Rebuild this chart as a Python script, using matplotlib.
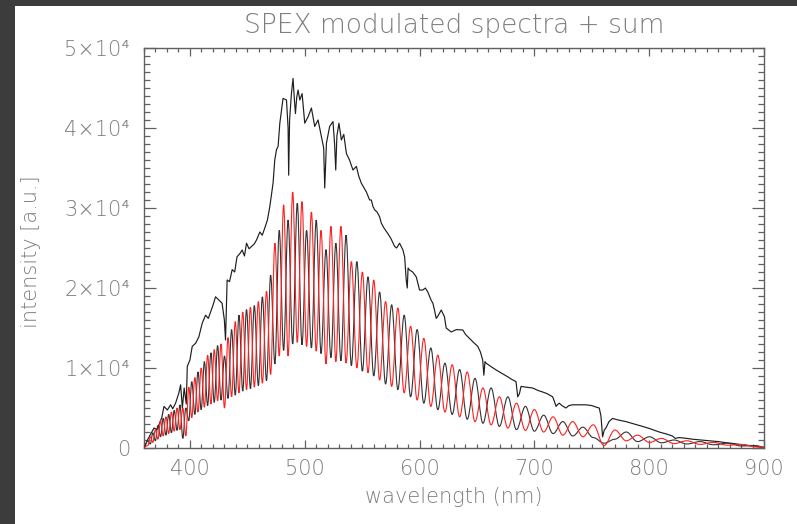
import matplotlib
matplotlib.use("Agg")
import matplotlib.pyplot as plt
import numpy as np
from matplotlib.path import Path
from matplotlib.patches import PathPatch, Rectangle
from matplotlib.ticker import MultipleLocator, FixedLocator, FixedFormatter

# ---------------- data (intensities in units of 1000) ----------------
sum_wl = [360.0, 363.0, 366.0, 368.7, 371.0, 373.0, 375.5, 377.4, 380.3, 383.2, 385.0, 387.5,
          390.4, 391.9, 393.4, 395.0, 396.8, 397.7, 400.0, 402.0, 405.0, 407.8, 410.7, 413.6,
          416.0, 418.0, 420.0, 422.3, 425.2, 428.0, 430.0, 431.0, 432.4, 434.5, 436.8, 439.0,
          441.0, 443.5, 445.5, 447.5, 449.3, 451.5, 453.7, 456.0, 458.0, 460.9, 463.0, 465.2,
          467.5, 469.6, 472.4, 473.9, 475.4, 476.8, 478.3, 481.1, 484.1, 485.5, 486.0, 486.8,
          488.4, 489.8, 491.0, 491.9, 493.0, 494.2, 495.7, 497.7, 500.0, 502.9, 505.8, 508.7,
          511.6, 514.5, 516.5, 517.4, 518.9, 521.7, 524.6, 526.0, 527.0, 528.0, 529.8, 531.9,
          534.0, 536.3, 539.0, 542.0, 545.0, 547.0, 549.3, 553.7, 556.5, 558.0, 559.4, 561.0,
          563.0, 565.2, 566.7, 569.0, 572.4, 575.0, 578.3, 580.0, 582.6, 585.5, 587.0, 588.4,
          589.3, 590.0, 591.3, 594.0, 597.1, 600.0, 602.9, 605.0, 607.2, 610.0, 611.6, 613.0,
          614.5, 616.0, 618.9, 621.7, 623.2, 625.0, 627.6, 632.0, 637.7, 640.0, 643.5, 647.0,
          650.7, 653.0, 655.0, 656.0, 657.0, 658.0, 662.0, 666.7, 672.0, 676.8, 680.0, 684.0,
          685.5, 687.0, 688.4, 693.0, 698.5, 703.0, 707.2, 711.0, 715.9, 717.5, 718.9, 720.0,
          721.7, 724.0, 727.5, 730.0, 733.3, 740.0, 745.0, 750.0, 754.0, 756.5, 758.0, 759.4,
          760.9, 762.3, 765.0, 768.1, 773.0, 779.7, 787.0, 794.2, 801.0, 808.7, 815.0, 820.3,
          822.6, 826.0, 830.0, 837.7, 845.0, 852.2, 860.0, 866.7, 874.0, 881.1, 890.0, 900.0]
sum_k = [0.0, 1.0, 1.8, 2.5, 2.3, 2.9, 3.8, 5.2, 4.75, 5.4, 4.9, 5.6,
         6.9, 7.9, 5.0, 7.5, 5.5, 10.2, 11.0, 12.7, 13.1, 13.9, 15.6, 16.6,
         16.2, 17.0, 17.8, 18.9, 18.5, 18.1, 16.0, 13.5, 21.0, 20.8, 22.3, 22.0,
         23.9, 24.3, 24.75, 24.0, 25.6, 24.9, 25.2, 25.5, 26.0, 27.0, 26.6, 27.5,
         28.5, 30.2, 33.1, 36.0, 37.3, 37.7, 40.6, 43.7, 43.5, 40.0, 34.1, 41.0,
         44.3, 46.2, 43.5, 41.8, 43.8, 44.75, 43.5, 44.3, 40.6, 41.4, 42.5, 40.2,
         41.0, 38.9, 37.5, 32.5, 38.1, 40.2, 40.8, 38.0, 34.75, 39.0, 40.6, 38.5,
         39.2, 36.8, 36.0, 34.75, 35.2, 34.0, 33.1, 32.0, 31.0, 31.0, 30.2, 29.75,
         29.5, 28.9, 28.1, 27.5, 26.8, 26.2, 25.2, 25.0, 25.6, 24.75, 23.9, 21.0,
         20.0, 22.5, 22.25, 22.0, 21.4, 19.75, 19.75, 20.0, 19.5, 18.5, 18.1, 17.25,
         16.2, 16.5, 17.25, 16.4, 15.0, 14.8, 14.5, 14.8, 14.75, 14.2, 13.7, 13.2,
         12.7, 12.0, 11.0, 9.1, 10.8, 10.6, 10.2, 9.75, 9.3, 8.9, 8.6, 8.3,
         6.4, 6.8, 7.7, 7.6, 7.5, 7.2, 7.0, 6.8, 6.4, 5.8, 5.2, 5.4,
         5.6, 5.3, 5.0, 5.3, 5.4, 5.4, 5.4, 5.3, 5.1, 5.0, 4.0, 1.4,
         2.25, 2.5, 3.3, 3.7, 3.5, 3.3, 3.0, 2.7, 2.4, 2.0, 1.75, 1.5,
         1.2, 1.3, 1.25, 1.1, 1.0, 0.9, 0.8, 0.67, 0.55, 0.4, 0.25, 0.05]

# extrema of the two modulated spectra (red peak <-> black trough and vice versa)
ext_wl = [360.0, 363.3, 365.5, 367.7, 369.9, 372.1, 374.4, 376.7, 379.1, 381.5, 383.9, 386.3,
          388.8, 391.3, 393.8, 396.4, 399.0, 401.6, 404.3, 407.0, 409.8, 412.6, 415.4, 418.3,
          421.2, 424.1, 427.1, 430.1, 433.2, 436.3, 439.5, 442.7, 446.0, 449.3, 452.7, 456.1,
          459.6, 463.1, 466.7, 470.3, 474.0, 477.8, 481.6, 485.5, 489.5, 493.5, 497.6, 501.6,
          505.8, 510.0, 514.2, 518.5, 522.8, 527.1, 531.5, 536.0, 540.6, 545.4, 550.2, 555.1,
          560.1, 565.2, 570.4, 575.7, 581.1, 586.6, 592.2, 597.9, 603.7, 609.8, 615.9, 622.1,
          628.4, 634.9, 641.5, 648.3, 655.2, 662.3, 669.5, 676.9, 684.4, 692.2, 700.0, 708.1,
          716.3, 724.8, 733.4, 742.3, 751.3, 760.7, 770.1, 780.0, 789.9, 800.3, 810.7, 821.7,
          832.7, 844.3, 855.9, 868.1, 880.4, 893.0, 900.0]
red_k = [0.1, 0.3, 1.4, 0.7, 2.3, 1.1, 3.4, 1.5, 3.9, 1.8, 4.5, 2.1,
         5.0, 2.3, 5.0, 1.5, 7.6, 3.8, 8.8, 4.5, 10.0, 5.1, 11.6, 5.5,
         12.3, 5.9, 13.0, 5.0, 13.8, 6.4, 15.8, 6.9, 17.0, 7.3, 17.6, 7.6,
         18.3, 8.1, 19.6, 9.2, 25.6, 11.5, 30.4, 11.5, 32.0, 13.2, 30.8, 12.7,
         29.5, 12.1, 27.2, 10.5, 27.7, 10.8, 27.7, 10.6, 23.3, 10.0, 22.0, 9.4,
         21.0, 8.5, 18.3, 7.7, 17.5, 6.9, 15.2, 6.0, 13.7, 5.2, 11.6, 4.5,
         10.4, 3.9, 9.5, 3.3, 7.5, 2.9, 6.4, 2.5, 5.6, 2.2, 4.8, 2.0,
         3.9, 1.6, 3.3, 1.4, 2.9, 0.3, 2.25, 0.9, 1.6, 0.7, 1.2, 0.55,
         0.9, 0.45, 0.7, 0.35, 0.45, 0.15, 0.1]
black_k = [0.1, 0.9, 0.5, 1.9, 0.9, 2.8, 1.4, 3.7, 1.6, 4.2, 1.9, 4.7,
           2.2, 5.4, 1.2, 5.0, 3.4, 8.3, 4.2, 9.5, 4.8, 10.8, 5.3, 11.9,
           5.7, 12.8, 6.0, 11.5, 6.2, 14.8, 6.6, 16.6, 7.1, 17.3, 7.4, 17.8,
           7.8, 18.9, 8.4, 21.6, 10.5, 27.2, 12.2, 28.5, 13.0, 30.6, 12.9, 27.2,
           12.5, 28.5, 11.8, 24.8, 11.3, 25.6, 10.9, 26.6, 10.3, 23.3, 9.6, 21.4,
           9.0, 19.5, 8.0, 17.9, 7.3, 16.6, 6.4, 14.8, 5.6, 12.5, 4.8, 10.6,
           4.2, 9.8, 3.6, 8.7, 3.1, 7.5, 2.7, 6.4, 2.3, 5.2, 2.1, 4.1,
           1.8, 3.3, 1.5, 2.6, 1.3, 0.6, 1.1, 2.0, 0.8, 1.4, 0.65, 1.0,
           0.5, 0.8, 0.4, 0.6, 0.25, 0.3, 0.1]

xticks = [400, 500, 600, 700, 800, 900]
yticks = [0, 10000, 20000, 30000, 40000, 50000]
ytick_labels = ["0", "1×10\u2074", "2×10\u2074", "3×10\u2074", "4×10\u2074", "5×10\u2074"]
title = "SPEX modulated spectra + sum"
xlabel = "wavelength (nm)"
ylabel = "intensity [a.u.]"

# ---------------- styling ----------------
W, H = 797, 524
TXT = "#7d7d7d"
AX = "#606060"
plt.rcParams["font.family"] = ["DejaVu Sans"]
plt.rcParams["font.weight"] = "light"

fig = plt.figure(figsize=(W / 100, H / 100), dpi=100)
fig.patch.set_facecolor("#3c3c3c")
fig.add_artist(Rectangle((15 / W, 0), 1 - 15 / W, 1 - 6 / H, transform=fig.transFigure,
                         facecolor="white", edgecolor="none", zorder=-5))

ax = fig.add_axes([144 / W, 1 - 448 / H, 620 / W, 400 / H])
ax.set_xlim(360, 900)
ax.set_ylim(0, 50000)


def smooth_path(xs, ys, k=0.364):
    verts = [(xs[0], ys[0])]
    codes = [Path.MOVETO]
    for i in range(1, len(xs)):
        x0, y0, x1, y1 = xs[i - 1], ys[i - 1], xs[i], ys[i]
        dx = x1 - x0
        verts += [(x0 + k * dx, y0), (x1 - k * dx, y1), (x1, y1)]
        codes += [Path.CURVE4] * 3
    return Path(verts, codes)


ax.plot(sum_wl, np.array(sum_k) * 1000, color="#1e1e1e", lw=0.85, zorder=3)
ax.add_patch(PathPatch(smooth_path(ext_wl, np.array(black_k) * 1000), facecolor="none",
                       edgecolor="#333333", lw=0.8, zorder=4))
ax.add_patch(PathPatch(smooth_path(ext_wl, np.array(red_k) * 1000), facecolor="none",
                       edgecolor="#ff2020", lw=0.8, zorder=5))

for s in ax.spines.values():
    s.set_color(AX)
    s.set_linewidth(1.0)

ax.xaxis.set_major_locator(FixedLocator(xticks))
ax.xaxis.set_minor_locator(MultipleLocator(10))
ax.yaxis.set_major_locator(FixedLocator(yticks))
ax.yaxis.set_major_formatter(FixedFormatter(ytick_labels))
ax.yaxis.set_minor_locator(MultipleLocator(1000))
ax.tick_params(which="both", direction="in", top=True, right=True, color=AX, width=0.9,
               labelcolor=TXT)
ax.tick_params(axis="x", which="major", length=5.8, pad=8, labelsize=15)
ax.tick_params(axis="x", which="minor", length=2.9)
ax.tick_params(axis="y", which="major", length=8.6, pad=10, labelsize=15)
ax.tick_params(axis="y", which="minor", length=4.3)

fig.text(454 / W, 1 - 25 / H, title, ha="center", va="center", fontsize=19, color=TXT)
fig.text(454 / W, 1 - 497 / H, xlabel, ha="center", va="center", fontsize=15, color=TXT)
fig.text(31 / W, 1 - 252 / H, ylabel, ha="center", va="center", rotation=90, fontsize=15,
         color=TXT)

fig.savefig("out.png", dpi=100, facecolor=fig.get_facecolor())
